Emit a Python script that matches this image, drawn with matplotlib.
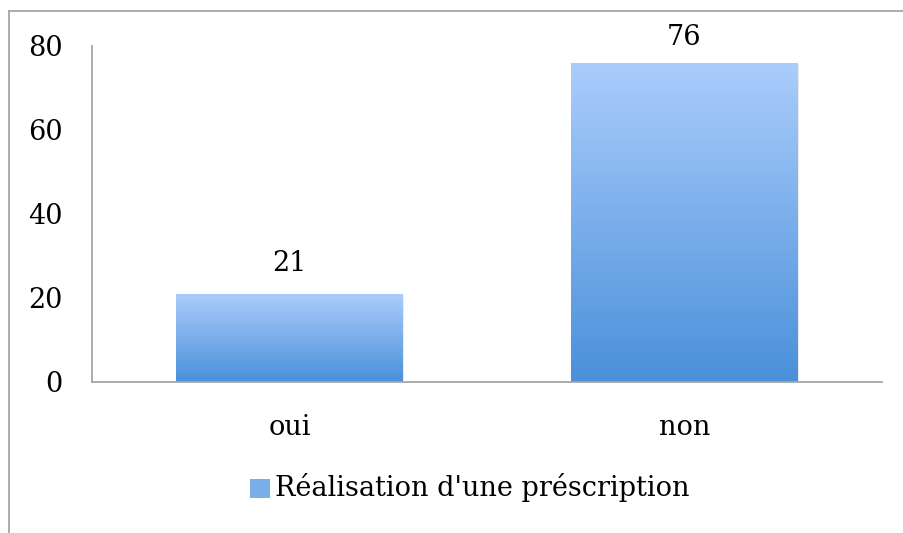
import numpy as np
import matplotlib
matplotlib.use("Agg")
import matplotlib.pyplot as plt
from matplotlib.colors import LinearSegmentedColormap
from matplotlib.patches import Rectangle
from matplotlib.lines import Line2D

categories = ["oui", "non"]
values = [21, 76]
series_name = "Réalisation d'une préscription"
yticks = [0, 20, 40, 60, 80]

plt.rcParams['font.family'] = ['DejaVu Serif']
FS = 19.5

W, H = 904, 533
fig = plt.figure(figsize=(W / 100, H / 100), dpi=100)
ax = fig.add_axes([92 / W, 1 - 382 / H, (882 - 92) / W, (382 - 46) / H])

cmap = LinearSegmentedColormap.from_list("g", ["#4a90da", "#abcdfc"])
bars = ax.bar(categories, values, width=0.573, color="none", edgecolor="none")
grad = np.linspace(0, 1, 256).reshape(-1, 1)
for b in bars:
    x0, y0 = b.get_x(), b.get_y()
    w, h = b.get_width(), b.get_height()
    ax.add_patch(Rectangle((x0 + 0.004, y0 - 0.35), w, h, facecolor="#000000",
                           alpha=0.08, edgecolor="none", zorder=1))
    im = ax.imshow(grad, cmap=cmap, origin="lower", aspect="auto",
                   extent=[x0, x0 + w, y0, y0 + h], zorder=2)
    im.set_clip_path(b)
    ty = min(h + 4.0, 78.8)
    ax.text(x0 + w / 2, ty, f"{int(round(h))}", ha="center",
            va="bottom", fontsize=FS, color="black", clip_on=False)

ax.set_xlim(-0.5, 1.5)
ax.set_ylim(0, 80)
ax.set_yticks(yticks)
ax.tick_params(axis="y", length=0, pad=21, labelsize=FS)
ax.tick_params(axis="x", length=0, pad=23, labelsize=FS)
for s in ["top", "right"]:
    ax.spines[s].set_visible(False)
for s in ["left", "bottom"]:
    ax.spines[s].set_color("#a6a6a6")
    ax.spines[s].set_linewidth(1.3)
ax.spines["left"].set_zorder(0.5)

# legend
fig.patches.append(Rectangle((250 / W, 1 - 498 / H), 20 / W, 19 / H,
                             transform=fig.transFigure, facecolor="#7aaee8",
                             edgecolor="none"))
fig.text(275 / W, 1 - 488 / H, series_name, ha="left", va="center",
         fontsize=FS, color="black")

# outer chart border (top and left)
fig.lines.append(Line2D([9 / W, 1], [1 - 11 / H, 1 - 11 / H],
                        transform=fig.transFigure, color="#a6a6a6", lw=1.3))
fig.lines.append(Line2D([9 / W, 9 / W], [0, 1 - 11 / H],
                        transform=fig.transFigure, color="#a6a6a6", lw=1.3))

fig.savefig("out.png", dpi=100, facecolor="white")
